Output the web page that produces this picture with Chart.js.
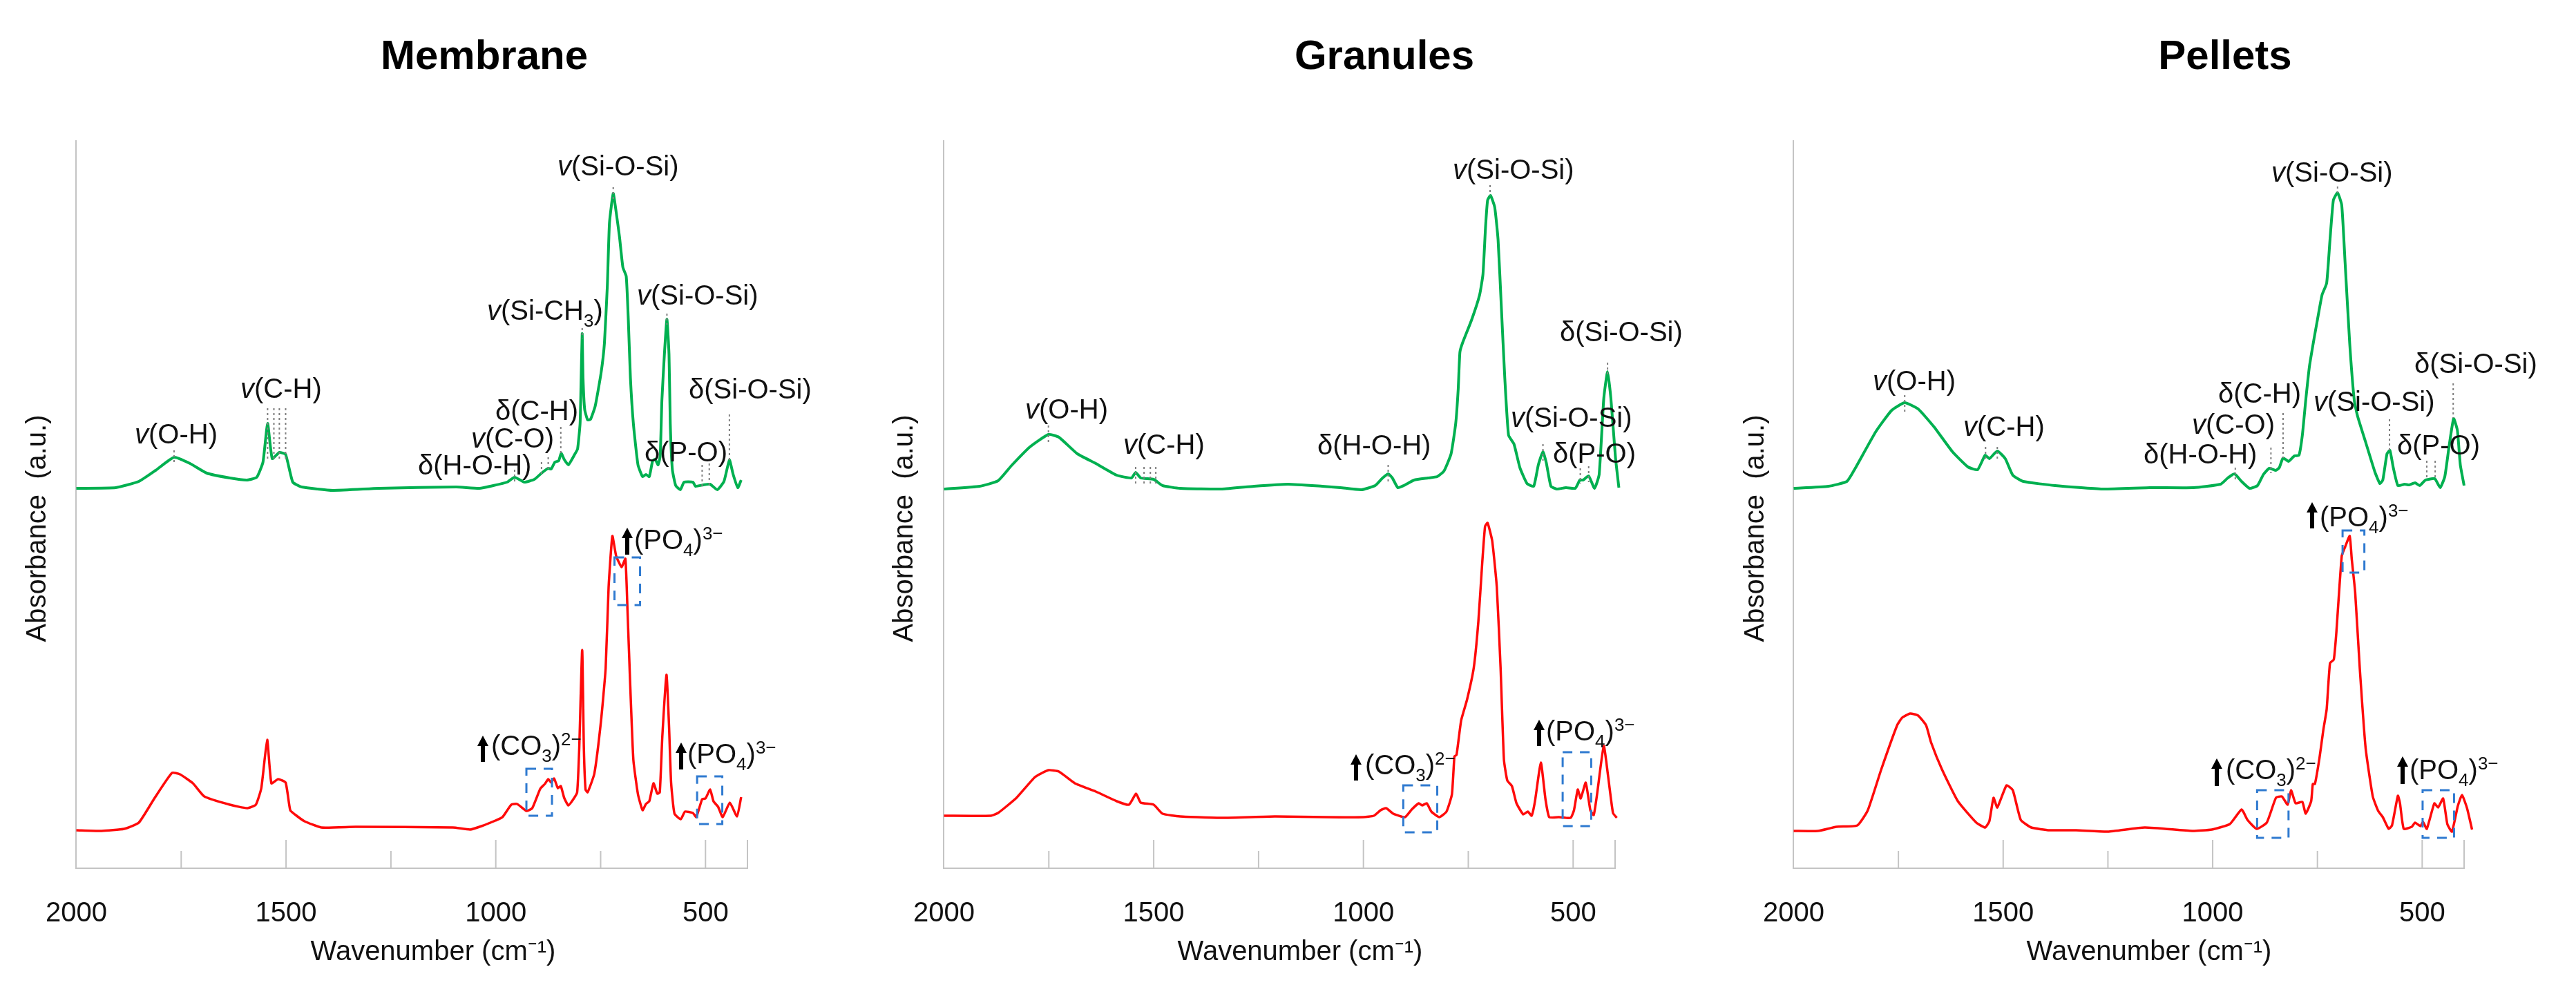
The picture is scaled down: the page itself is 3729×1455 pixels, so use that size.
<!DOCTYPE html>
<html><head><meta charset="utf-8">
<style>html,body{margin:0;padding:0;background:#fff;width:3729px;height:1455px;overflow:hidden}canvas{position:absolute;top:0}</style>
<script src="https://cdn.jsdelivr.net/npm/chart.js@4"></script>
</head><body>
<canvas id="c0" width="1256" height="1455"></canvas><canvas id="c1" width="1230" height="1455"></canvas><canvas id="c2" width="1219" height="1455"></canvas>
<script>
// ---------- data: wavenumber (cm-1) and absorbance (a.u., offset traces) ----------
const wnMembraneGreen=[2000,1906,1851,1811,1767,1729,1689,1634,1593,1570,1555,1544,1533,1516,1501,1484,1463,1388,1279,1094,1039,1006,973,955,932,908,891,875,868,859,850,844,837,827,812,805,799,797,794,792,788,781,774,763,749,741,734,729,720,713,705,697,689,684,679,672,661,650,642,634,626,620,613,608,604,598,592,587,584,579,571,560,551,530,524,505,489,472,456,443,434,423,415];
const absMembraneGreen=[550,551,560,576,595,586,572,565,562,566,588,644,593,602,599,559,552,547,550,552,550,554,559,566,559,563,572,579,578,588,590,601,592,584,599,607,644,694,774,710,664,649,650,669,717,760,844,934,977,950,914,870,857,794,710,644,584,567,570,567,590,592,584,597,677,744,795,744,644,577,554,548,559,559,553,555,556,548,560,591,570,551,562];
const wnMembraneRed=[2000,1940,1886,1851,1813,1772,1753,1722,1695,1634,1593,1572,1559,1545,1535,1519,1501,1490,1477,1456,1416,1334,1102,1061,1034,1001,984,963,949,927,913,894,883,875,868,861,852,845,837,827,815,806,801,794,790,786,781,765,749,738,731,722,713,700,691,686,680,672,661,650,642,634,624,615,609,603,593,587,582,574,559,549,530,522,508,500,489,481,470,459,442,425,415];
const absMembraneRed=[55,54,57,66,102,138,136,123,104,92,87,92,116,186,123,129,124,84,77,68,59,60,59,56,61,69,74,92,93,83,87,115,122,129,124,130,116,119,102,91,100,110,174,316,174,114,110,137,214,290,407,481,452,436,448,374,274,157,107,84,93,97,123,108,110,190,280,207,124,79,71,82,80,74,100,101,114,97,89,74,95,75,103];
const wnGranulesGreen=[2000,1915,1871,1839,1795,1751,1726,1682,1638,1588,1553,1543,1531,1500,1479,1437,1337,1261,1180,1098,1055,1005,972,956,941,931,918,904,879,846,824,808,791,780,774,770,764,742,723,715,709,704,697,687,679,671,663,654,641,627,610,594,583,572,564,553,539,517,495,484,476,463,449,438,427,418,410,399,391];
const absGranulesGreen=[549,553,561,583,610,628,624,600,586,569,565,573,565,563,554,550,549,553,556,553,551,548,554,564,571,565,551,554,562,565,567,575,600,644,694,747,760,794,830,860,927,967,974,957,910,810,710,627,614,580,557,553,584,603,587,553,549,551,550,562,562,568,550,570,680,719,680,594,551];
const wnGranulesRed=[2000,1889,1871,1827,1783,1751,1726,1688,1638,1588,1559,1542,1531,1500,1479,1437,1337,1211,1088,1000,975,959,946,929,901,885,868,860,849,838,819,802,789,783,778,767,753,737,726,717,710,704,693,682,673,665,657,646,635,619,608,599,591,577,566,557,534,506,498,489,482,470,459,451,443,427,416,405,396];
const absGranulesRed=[76,76,80,102,132,142,140,123,111,97,92,108,95,92,79,75,73,75,74,74,76,84,87,79,74,85,94,91,94,82,74,82,107,162,164,214,244,290,357,440,495,500,474,407,290,157,127,119,94,78,82,76,97,153,100,74,74,73,84,114,101,124,84,77,107,177,130,80,73];
const wnPelletsGreen=[2000,1917,1873,1854,1804,1766,1735,1703,1665,1621,1584,1561,1543,1533,1514,1495,1477,1452,1376,1263,1150,1046,981,964,948,931,912,893,879,865,849,841,832,819,805,794,786,778,769,758,750,739,728,720,712,702,692,684,673,662,654,635,613,601,594,584,577,569,558,542,531,517,506,492,470,457,446,436,425,416,409,400];
const absPelletsGreen=[550,553,560,578,632,663,674,665,639,603,581,577,598,593,604,593,569,560,554,549,551,551,556,565,571,560,550,554,570,579,576,580,594,589,597,598,627,677,727,767,794,830,847,910,967,978,960,877,760,677,654,617,574,557,562,600,605,580,554,556,555,558,554,562,564,551,567,610,651,634,584,554];
const wnPelletsRed=[2000,1942,1898,1848,1823,1791,1753,1741,1722,1703,1684,1672,1646,1608,1564,1543,1533,1523,1514,1492,1477,1458,1433,1389,1326,1250,1162,1049,1002,959,931,917,895,871,849,835,821,813,802,786,778,765,761,756,745,736,728,720,711,705,692,684,673,668,660,649,635,618,605,594,580,572,558,553,544,525,517,504,498,489,471,462,450,440,429,415,405,393,381];
const absPelletsRed=[54,54,60,62,84,143,207,218,224,221,207,182,143,97,66,59,68,102,88,120,113,70,59,55,55,53,59,54,56,64,85,70,57,66,102,104,92,113,94,96,79,97,122,122,160,200,230,297,302,340,452,465,481,447,400,290,174,104,83,74,57,62,105,94,57,60,66,61,67,57,94,88,101,64,53,90,106,87,56];

// ---------- text and axis ticks ----------
const panelTitles=["Membrane","Granules","Pellets"];
const xAxisTitle="Wavenumber (cm⁻¹)";
const yAxisTitle="Absorbance  (a.u.)";
const tickValues=[2000,1750,1500,1250,1000,750,500,400];
const labelledTicks=[2000,1500,1000,500];
const tallTicks=[2000,1500,1000,500,400];

// ---------- layout (page pixels) and annotations ----------
const FONT='"Liberation Sans", Arial, sans-serif';
const TEXT='#111111', GREEN='#00b050', RED='#ff0a0a', AXIS='#c4c4c4', LEADER='#7f7f7f', BOX='#2f7ad0';
const AX_TOP=204, AX_BOTTOM=1257, PAGE_H=1455;
const panels=[
 {left:24,width:1256,x0:109,x1:1082,titleX:701,xTitleX:627,yTitleX:55,
  wn:[wnMembraneGreen,wnMembraneRed],abs:[absMembraneGreen,absMembraneRed],
  labels:[
   ["<i>v</i>(O-H)",195,642],["<i>v</i>(C-H)",348,576],["δ(H-O-H)",605,687],["<i>v</i>(C-O)",682,648],["δ(C-H)",717,608],
   ["<i>v</i>(Si-CH<sub>3</sub>)",705,463],["<i>v</i>(Si-O-Si)",807,254],["<i>v</i>(Si-O-Si)",922,441],["δ(P-O)",933,668],["δ(Si-O-Si)",997,577]],
  ups:[["(PO<sub>4</sub>)<sup>3−</sup>",908,918,795,764,803],["(CO<sub>3</sub>)<sup>2−</sup>",699,711,1093,1065,1103],["(PO<sub>4</sub>)<sup>3−</sup>",986,995,1105,1075,1114]],
  leaders:[[720,986,969],[794,782,767],[592,803,787],[443,657,590],[508,584,549],[491,586,551],[845,639,597],[891,588,570],[875,595,577],[955,577,559],[1767,605,586],[1544,666,593],[1529,666,593],[1516,666,593],[1501,666,593]],
  boxes:[[717,656,450,381],[927,866,144,76],[520,460,133,64]]},
 {left:1280,width:1230,x0:1366,x1:2338,titleX:2004,xTitleX:1882,yTitleX:1310,
  wn:[wnGranulesGreen,wnGranulesRed],abs:[absGranulesGreen,absGranulesRed],
  labels:[
   ["<i>v</i>(O-H)",1484,606],["<i>v</i>(C-H)",1626,657],["δ(H-O-H)",1907,658],["<i>v</i>(Si-O-Si)",2103,259],["δ(Si-O-Si)",2258,494],["<i>v</i>(Si-O-Si)",2187,618],["δ(P-O)",2248,670]],
  ups:[["(CO<sub>3</sub>)<sup>2−</sup>",1963,1976,1121,1092,1130],["(PO<sub>4</sub>)<sup>3−</sup>",2228,2238,1072,1042,1080]],
  leaders:[[698,989,974],[941,584,559],[572,614,590],[483,579,557],[463,582,559],[418,732,712],[1751,641,616],[1543,581,557],[1523,581,557],[1508,581,557],[1495,581,557]],
  boxes:[[905,824,120,52],[525,457,168,61]]},
 {left:2510,width:1219,x0:2594,x1:3567,titleX:3221,xTitleX:3111,yTitleX:2542,
  wn:[wnPelletsGreen,wnPelletsRed],abs:[absPelletsGreen,absPelletsRed],
  labels:[
   ["<i>v</i>(O-H)",2711,565],["<i>v</i>(C-H)",2842,631],["δ(H-O-H)",3103,671],["<i>v</i>(C-O)",3173,628],["δ(C-H)",3211,583],
   ["<i>v</i>(Si-O-Si)",3288,263],["<i>v</i>(Si-O-Si)",3349,595],["δ(Si-O-Si)",3495,540],["δ(P-O)",3470,658]],
  ups:[["(PO<sub>4</sub>)<sup>3−</sup>",3347,3358,762,727,765],["(CO<sub>3</sub>)<sup>2−</sup>",3209,3222,1128,1098,1138],["(PO<sub>4</sub>)<sup>3−</sup>",3478,3488,1128,1095,1135]],
  leaders:[[702,987,978],[946,580,560],[861,609,572],[832,659,594],[578,650,605],[426,702,652],[489,590,562],[469,590,562],[1735,685,658],[1542,610,593],[1514,610,593]],
  boxes:[[690,638,489,428],[894,819,113,44],[499,424,113,44]]}
];

function richText(ctx,markup,x,y){
  const parts=markup.split(/(<i>.*?<\/i>|<sub>.*?<\/sub>|<sup>.*?<\/sup>)/).filter(Boolean);
  ctx.textAlign='left';ctx.textBaseline='alphabetic';ctx.fillStyle=TEXT;
  for(const p of parts){
    const m=p.match(/^<(i|sub|sup)>(.*)<\/\1>$/);
    const kind=m?m[1]:'', t=m?m[2]:p;
    ctx.font=(kind==='i'?'italic ':'')+(kind==='sub'||kind==='sup'?26:40)+'px '+FONT;
    ctx.fillText(t,x,y+(kind==='sub'?10:kind==='sup'?-14:0));
    x+=ctx.measureText(t).width;
  }
}
const panelDecor={id:'panelDecor',
  afterDraw(chart,args,opts){
    const idx=opts.index, p=panels[idx], ctx=chart.ctx, sx=chart.scales.x, sy=chart.scales.y;
    ctx.save();
    // inward tick marks
    ctx.strokeStyle=AXIS;ctx.lineWidth=2;
    for(const t of sx.ticks){
      if(t.value===2000)continue;
      const px=sx.getPixelForValue(t.value), len=tallTicks.includes(t.value)?41:25;
      ctx.beginPath();ctx.moveTo(px,AX_BOTTOM);ctx.lineTo(px,AX_BOTTOM-len);ctx.stroke();
    }
    // peak leaders
    ctx.strokeStyle=LEADER;ctx.lineWidth=2;ctx.setLineDash([3,4]);
    for(const [wn,hi,lo] of p.leaders){
      const px=sx.getPixelForValue(wn);
      ctx.beginPath();ctx.moveTo(px,sy.getPixelForValue(hi));ctx.lineTo(px,sy.getPixelForValue(lo));ctx.stroke();
    }
    // dashed highlight boxes
    ctx.strokeStyle=BOX;ctx.lineWidth=3;ctx.setLineDash([14,11]);
    for(const [a,b,hi,lo] of p.boxes){
      const xa=sx.getPixelForValue(a),xb=sx.getPixelForValue(b),ya=sy.getPixelForValue(hi),yb=sy.getPixelForValue(lo);
      ctx.strokeRect(xa,ya,xb-xa,yb-ya);
    }
    ctx.setLineDash([]);
    ctx.translate(-p.left,0);
    // texts
    ctx.fillStyle='#000';ctx.textAlign='center';ctx.textBaseline='alphabetic';
    ctx.font='bold 60px '+FONT;
    ctx.fillText(panelTitles[idx],p.titleX,100);
    ctx.fillStyle=TEXT;
    ctx.font='40px '+FONT;
    ctx.fillText(xAxisTitle,p.xTitleX,1390);
    ctx.save();ctx.translate(p.yTitleX,765);ctx.rotate(-Math.PI/2);ctx.textBaseline='middle';ctx.fillText(yAxisTitle,0,0);ctx.restore();
    for(const [m,x,y] of p.labels)richText(ctx,m,x,y);
    for(const [m,ax,tx,y,top,bot] of p.ups){
      richText(ctx,m,tx,y);
      ctx.fillStyle='#000';
      ctx.fillRect(ax-3,top+10,6,bot-top-10);
      ctx.beginPath();ctx.moveTo(ax,top);ctx.lineTo(ax+8,top+15);ctx.lineTo(ax-8,top+15);ctx.closePath();ctx.fill();
    }
    ctx.restore();
  }};

panels.forEach((p,i)=>{
  const cv=document.getElementById('c'+i);
  cv.style.left=p.left+'px';
  new Chart(cv,{
    type:'line',
    data:{datasets:[0,1].map(k=>({
      data:p.wn[k].map((x,j)=>({x,y:p.abs[k][j]})),
      borderColor:k?RED:GREEN,borderWidth:k?3.5:4,pointRadius:0,tension:0.15,clip:false,fill:false
    }))},
    plugins:[panelDecor],
    options:{
      responsive:false,animation:false,devicePixelRatio:1,events:[],
      layout:{autoPadding:false,padding:{left:p.x0-p.left,right:p.left+p.width-p.x1,top:AX_TOP,bottom:0}},
      plugins:{legend:{display:false},tooltip:{enabled:false},title:{display:false},panelDecor:{index:i}},
      scales:{
        x:{type:'linear',reverse:true,min:400,max:2000,
          afterBuildTicks:s=>{s.ticks=tickValues.map(value=>({value}));},
          afterFit:s=>{s.height=PAGE_H-AX_BOTTOM;},
          grid:{display:true,drawOnChartArea:false,drawTicks:false},
          border:{display:true,color:AXIS,width:2},
          ticks:{autoSkip:false,maxRotation:0,minRotation:0,padding:42,color:TEXT,font:{family:FONT,size:40},
            callback:v=>labelledTicks.includes(v)?String(v):''}},
        y:{type:'linear',min:0,max:AX_BOTTOM-AX_TOP,
          grid:{display:true,drawOnChartArea:false,drawTicks:false},
          border:{display:true,color:AXIS,width:2},
          ticks:{display:false},afterFit:s=>{s.width=0;}}
      }
    }
  });
});
</script>
</body></html>
